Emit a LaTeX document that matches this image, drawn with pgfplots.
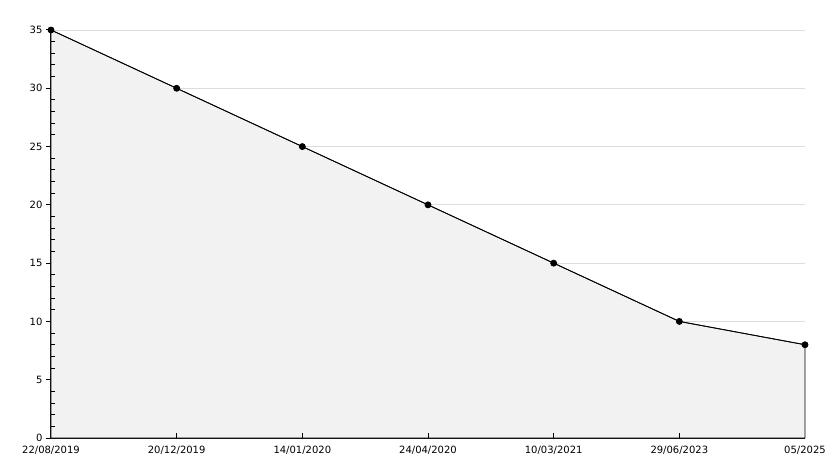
\documentclass[border=0pt]{standalone}
\usepackage{pgfplots}
\pgfplotsset{compat=1.18}
\usepackage{fontspec}
\setmainfont{DejaVu Sans}
\definecolor{fillgray}{HTML}{F2F2F2}
\definecolor{gridgray}{HTML}{DDDDDD}
\begin{document}
\begin{tikzpicture}
\begin{axis}[
  scale only axis, width=754pt, height=408pt,
  xmin=0, xmax=6, ymin=0, ymax=35,
  /pgf/number format/assume math mode=true,
  ticklabel style={font=\fontsize{10}{12}\selectfont},
  axis x line*=bottom, axis y line*=left,
  axis line style={black, line width=1pt},
  xtick={0,...,6},
  xticklabels={22/08/2019,20/12/2019,14/01/2020,24/04/2020,10/03/2021,29/06/2023,05/2025},
  ytick={0,5,...,35},
  ymajorgrids, major grid style={color=gridgray, line width=0.8pt},
  tick align=outside, major tick length=0pt,
  yticklabel style={xshift=-5pt},
  x tick label style={yshift=-5pt},
  clip=false,
]
\addplot[draw=black, line width=0.8pt, fill=fillgray]
 coordinates {(0,35) (1,30) (2,25) (3,20) (4,15) (5,10) (6,8)} \closedcycle;
% x ticks (inward, 5px)
\addplot[ycomb, black, line width=1pt, mark=none]
 coordinates {(1,0.43) (2,0.43) (3,0.43) (4,0.43) (5,0.43)};
% y major ticks (outward, 5px)
\addplot[xcomb, black, line width=1pt, mark=none]
 coordinates {(-0.04,0) (-0.04,5) (-0.04,10) (-0.04,15) (-0.04,20) (-0.04,25) (-0.04,30) (-0.04,35)};
% y minor ticks (inward, 4px)
\addplot[xcomb, black, line width=1pt, mark=none]
 coordinates {(0.032,1) (0.032,2) (0.032,3) (0.032,4) (0.032,6) (0.032,7) (0.032,8) (0.032,9)
 (0.032,11) (0.032,12) (0.032,13) (0.032,14) (0.032,16) (0.032,17) (0.032,18) (0.032,19)
 (0.032,21) (0.032,22) (0.032,23) (0.032,24) (0.032,26) (0.032,27) (0.032,28) (0.032,29)
 (0.032,31) (0.032,32) (0.032,33) (0.032,34)};
% data line and markers on top
\addplot[draw=black, line width=0.8pt, mark=*, mark size=3pt, mark options={fill=black}]
 coordinates {(0,35) (1,30) (2,25) (3,20) (4,15) (5,10) (6,8)};
\end{axis}
\pgfresetboundingbox
\path ([xshift=-51pt,yshift=-30pt]current axis.south west) rectangle ([xshift=29pt,yshift=30pt]current axis.north east);
\end{tikzpicture}
\end{document}
